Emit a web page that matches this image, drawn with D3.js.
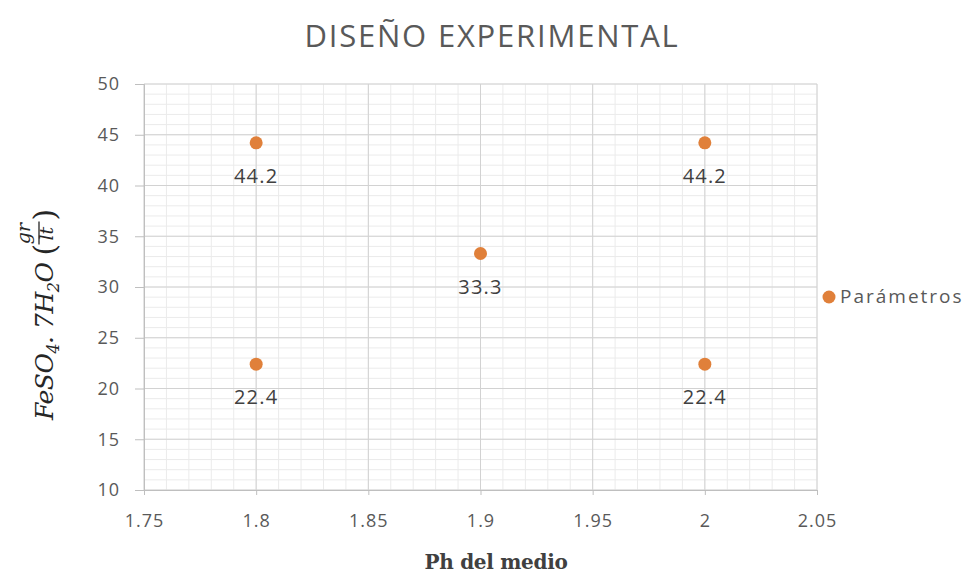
<!DOCTYPE html>
<html>
<head>
<meta charset="utf-8">
<script src="https://cdn.jsdelivr.net/npm/d3@7"></script>
<style>
  body { margin: 0; background: #fff; }
  svg { display: block; }
</style>
</head>
<body>
<script>
// data
const phValues = [1.8, 1.8, 1.9, 2.0, 2.0];
const feso4Values = [44.2, 22.4, 33.3, 44.2, 22.4];
const xTicks = [1.75, 1.8, 1.85, 1.9, 1.95, 2, 2.05];
const yTicks = [10, 15, 20, 25, 30, 35, 40, 45, 50];
const seriesName = 'Parámetros';

const width = 970, height = 578;
const margin = { left: 144, right: 153, top: 84, bottom: 88 };

const svg = d3.select('body')
  .append('svg')
  .attr('width', width)
  .attr('height', height);

const x = d3.scaleLinear().domain([1.75, 2.05]).range([margin.left, width - margin.right]);
const y = d3.scaleLinear().domain([10, 50]).range([height - margin.bottom, margin.top]);

// minor grid
const xMinor = d3.range(0, 31).map(i => 1.75 + i * 0.01);
const yMinor = d3.range(10, 51, 1);
svg.append('g')
  .selectAll('line')
  .data(xMinor)
  .enter().append('line')
  .attr('x1', d => x(d)).attr('x2', d => x(d))
  .attr('y1', y(10)).attr('y2', y(50))
  .attr('stroke', '#ebebeb').attr('stroke-width', 1);
svg.append('g')
  .selectAll('line')
  .data(yMinor)
  .enter().append('line')
  .attr('y1', d => y(d)).attr('y2', d => y(d))
  .attr('x1', x(1.75)).attr('x2', x(2.05))
  .attr('stroke', '#ebebeb').attr('stroke-width', 1);

// major grid
svg.append('g')
  .selectAll('line')
  .data(xTicks)
  .enter().append('line')
  .attr('x1', d => x(d)).attr('x2', d => x(d))
  .attr('y1', y(10)).attr('y2', y(50))
  .attr('stroke', '#d2d2d2').attr('stroke-width', 1);
svg.append('g')
  .selectAll('line')
  .data(yTicks)
  .enter().append('line')
  .attr('y1', d => y(d)).attr('y2', d => y(d))
  .attr('x1', x(1.75)).attr('x2', x(2.05))
  .attr('stroke', '#d2d2d2').attr('stroke-width', 1);

// axes
const xAxis = svg.append('g')
  .attr('transform', `translate(0,${y(10)})`)
  .call(d3.axisBottom(x).tickValues(xTicks).tickFormat(d => String(+d.toFixed(2))).tickSizeOuter(0).tickSize(5).tickPadding(19));
const yAxis = svg.append('g')
  .attr('transform', `translate(${x(1.75)},0)`)
  .call(d3.axisLeft(y).tickValues(yTicks).tickSizeOuter(0).tickSize(9).tickPadding(15));

[xAxis, yAxis].forEach(a => {
  a.select('.domain').attr('stroke', '#bfbfbf');
  a.selectAll('.tick line').attr('stroke', '#bfbfbf');
  a.selectAll('.tick text')
    .attr('fill', '#595959')
    .style('font-family', '"Open Sans", sans-serif')
    .style('font-size', '18px')
    .style('letter-spacing', '1px');
});

// points
const pts = phValues.map((p, i) => ({ p, v: feso4Values[i] }));
const color = '#e0803a';
svg.append('g')
  .selectAll('circle')
  .data(pts)
  .enter().append('circle')
  .attr('cx', d => x(d.p))
  .attr('cy', d => y(d.v))
  .attr('r', 6.5)
  .attr('fill', color);

svg.append('g')
  .selectAll('text')
  .data(pts)
  .enter().append('text')
  .attr('x', d => x(d.p))
  .attr('y', d => y(d.v) + 40)
  .attr('text-anchor', 'middle')
  .attr('fill', '#404040')
  .style('font-family', '"Open Sans", sans-serif')
  .style('font-size', '20px')
  .style('letter-spacing', '1.2px')
  .text(d => d.v.toFixed(1));

// title
svg.append('text')
  .attr('x', 492)
  .attr('y', 47)
  .attr('text-anchor', 'middle')
  .attr('fill', '#595959')
  .style('font-family', '"Open Sans", sans-serif')
  .style('font-size', '31px')
  .style('letter-spacing', '1.8px')
  .text('DISEÑO EXPERIMENTAL');

// legend
svg.append('circle')
  .attr('cx', 829).attr('cy', 297).attr('r', 6.5).attr('fill', color);
svg.append('text')
  .attr('x', 840).attr('y', 303)
  .attr('fill', '#595959')
  .style('font-family', '"Open Sans", sans-serif')
  .style('font-size', '19px')
  .style('letter-spacing', '2px')
  .text(seriesName);

// x axis title
svg.append('text')
  .attr('x', 496).attr('y', 569)
  .attr('text-anchor', 'middle')
  .attr('fill', '#404040')
  .style('font-family', '"DejaVu Serif", serif')
  .style('font-weight', 'bold')
  .style('font-size', '20px')
  .style('letter-spacing', '-0.3px')
  .text('Ph del medio');

// y axis title: FeSO4. 7H2O (gr/lt)
const yl = svg.append('g')
  .attr('transform', 'translate(53,420) rotate(-90)')
  .attr('fill', '#262626')
  .style('font-family', '"DejaVu Serif", serif')
  .style('font-style', 'italic');
const main = yl.append('text').attr('x', 0).attr('y', 0)
  .style('font-size', '25px').style('letter-spacing', '-0.5px');
main.append('tspan').text('FeSO');
main.append('tspan').attr('dy', 6).style('font-size', '16px').text('4');
main.append('tspan').attr('dy', -6).text('. 7H');
main.append('tspan').attr('dy', 6).style('font-size', '16px').text('2');
main.append('tspan').attr('dy', -6).text('O');
const w = main.node().getComputedTextLength();
const px = w + 7;
yl.append('text').attr('x', px).attr('y', 2)
  .style('font-size', '30px').style('font-style', 'normal').text('(');
const fx = px + 11;
yl.append('text').attr('x', fx + 11).attr('y', -23)
  .attr('text-anchor', 'middle').style('font-size', '19px').text('gr');
yl.append('text').attr('x', fx + 11).attr('y', 0)
  .attr('text-anchor', 'middle').style('font-size', '19px').text('lt');
yl.append('line')
  .attr('x1', fx).attr('x2', fx + 23)
  .attr('y1', -14).attr('y2', -14)
  .attr('stroke', '#262626').attr('stroke-width', 1.3);
yl.append('text').attr('x', fx + 24).attr('y', 2)
  .style('font-size', '30px').style('font-style', 'normal').text(')');
</script>
</body>
</html>
